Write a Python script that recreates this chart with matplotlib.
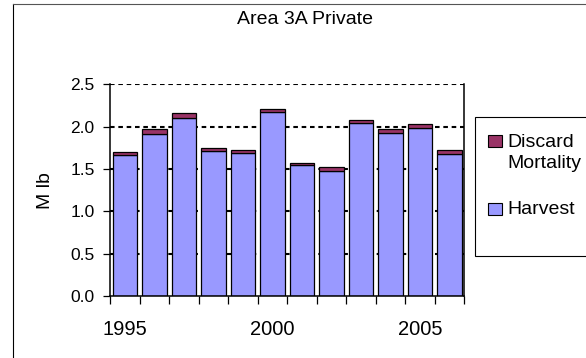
import matplotlib
matplotlib.use("Agg")
import matplotlib.pyplot as plt
import numpy as np
from matplotlib.patches import Rectangle
from matplotlib.lines import Line2D

plt.rcParams['font.family'] = ['Liberation Sans', 'DejaVu Sans']

# Area 3A private sector removals, millions of pounds
years = [1995, 1996, 1997, 1998, 1999, 2000, 2001, 2002, 2003, 2004, 2005, 2006]
harvest = [1.66, 1.91, 2.10, 1.71, 1.69, 2.17, 1.55, 1.48, 2.04, 1.93, 1.98, 1.68]
discard = [0.04, 0.06, 0.06, 0.04, 0.04, 0.04, 0.02, 0.04, 0.04, 0.04, 0.05, 0.04]
year_labels = ['1995', '2000', '2005']

harvest_color = '#9999FF'
discard_color = '#993366'

W, H = 586, 358
fig = plt.figure(figsize=(W / 100, H / 100), dpi=100)
ax = fig.add_axes([110 / W, 1 - 296 / H, (464.3 - 110) / W, (296 - 84.3) / H])

x = np.arange(len(years))
ax.bar(x, harvest, width=0.83, color=harvest_color, edgecolor='black',
       linewidth=0.9, zorder=3)
ax.bar(x, discard, bottom=harvest, width=0.83, color=discard_color,
       edgecolor='black', linewidth=0.9, zorder=3)

ax.set_xlim(-0.5, len(years) - 0.5)
ax.set_ylim(0, 2.5)
ax.set_yticks(np.arange(0, 2.51, 0.5))
ax.set_yticklabels([f'{v:.1f}' for v in np.arange(0, 2.51, 0.5)])

# dotted horizontal gridlines behind the bars
for v in np.arange(0.5, 2.51, 0.5):
    ax.axhline(v, color='black', linewidth=1.5, linestyle=(0, (2.2, 1.8)), zorder=1)

# year labels every five years, tick marks between categories
label_pos = [years.index(int(y)) for y in year_labels]
ax.set_xticks(label_pos)
ax.set_xticklabels(year_labels)
ax.set_xticks(np.arange(-0.5, len(years), 1.0), minor=True)
ax.tick_params(axis='x', which='major', length=0, pad=17, labelsize=14.5)
ax.tick_params(axis='x', which='minor', length=6, width=0.9, direction='out')
ax.tick_params(axis='y', length=5, width=0.9, direction='out', pad=6, labelsize=12.5)

ax.spines['top'].set_visible(False)
for s in ['left', 'bottom', 'right']:
    ax.spines[s].set_linewidth(1.1)
    ax.spines[s].set_zorder(4)

ax.set_ylabel('M lb', fontsize=14, labelpad=12)

fig.text(305 / W, 1 - 23.5 / H, 'Area 3A Private', ha='center', va='baseline',
         fontsize=14)

# chart border
fig.add_artist(Line2D([12.5 / W, 12.5 / W], [0, 1 - 4 / H], color='black',
                      linewidth=0.8, transform=fig.transFigure))
fig.add_artist(Line2D([12.5 / W, 1], [1 - 4 / H, 1 - 4 / H], color='#555555',
                      linewidth=0.8, transform=fig.transFigure))

# legend box
fig.add_artist(Rectangle((475 / W, 1 - 256 / H), (600 - 475) / W, (256 - 117.3) / H,
                         transform=fig.transFigure, facecolor='white',
                         edgecolor='black', linewidth=0.8))
fig.add_artist(Rectangle((488 / W, 1 - 147 / H), 14 / W, 12 / H,
                         transform=fig.transFigure, facecolor=discard_color,
                         edgecolor='black', linewidth=0.8))
fig.add_artist(Rectangle((488 / W, 1 - 215 / H), 14 / W, 12 / H,
                         transform=fig.transFigure, facecolor=harvest_color,
                         edgecolor='black', linewidth=0.8))
fig.text(507 / W, 1 - 146.7 / H, 'Discard', fontsize=14, va='baseline')
fig.text(507 / W, 1 - 167.7 / H, 'Mortality', fontsize=14, va='baseline')
fig.text(507 / W, 1 - 214.3 / H, 'Harvest', fontsize=14, va='baseline')

fig.savefig('out.png', dpi=100)
